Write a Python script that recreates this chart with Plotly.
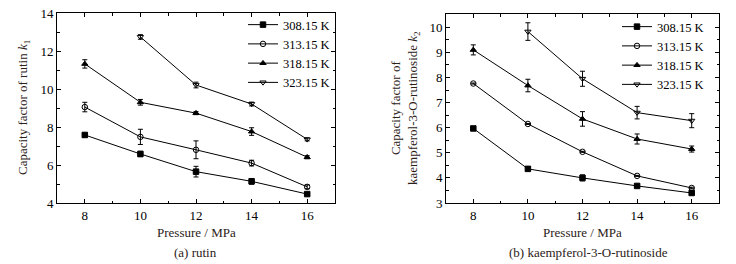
import plotly.graph_objects as go

pressure = [8, 10, 12, 14, 16]
temps = ["308.15 K", "313.15 K", "318.15 K", "323.15 K"]

# (a) rutin, k1
rutin = {
    "308.15 K": [7.58, 6.58, 5.65, 5.14, 4.47],
    "313.15 K": [9.05, 7.48, 6.80, 6.10, 4.85],
    "318.15 K": [11.32, 9.30, 8.73, 7.76, 6.41],
    "323.15 K": [None, 12.74, 10.21, 9.21, 7.35],
}
rutin_err = {
    "308.15 K": [0.10, 0.14, 0.28, 0.15, 0.06],
    "313.15 K": [0.25, 0.40, 0.47, 0.15, 0.10],
    "318.15 K": [0.22, 0.15, 0.08, 0.20, 0.08],
    "323.15 K": [0, 0.12, 0.15, 0.10, 0.08],
}
# (b) kaempferol-3-O-rutinoside, k2
kaemp = {
    "308.15 K": [5.97, 4.36, 4.00, 3.68, 3.40],
    "313.15 K": [7.76, 6.15, 5.04, 4.08, 3.60],
    "318.15 K": [9.10, 7.68, 6.35, 5.55, 5.15],
    "323.15 K": [None, 9.83, 7.95, 6.60, 6.28],
}
kaemp_err = {
    "308.15 K": [0.03, 0.07, 0.12, 0.03, 0.07],
    "313.15 K": [0.02, 0.02, 0.02, 0.02, 0.03],
    "318.15 K": [0.20, 0.25, 0.29, 0.20, 0.12],
    "323.15 K": [0, 0.35, 0.30, 0.25, 0.28],
}
symbols = ["square", "circle-open", "triangle-up", "triangle-down-open"]

FONT = "Liberation Serif"
fig = go.Figure()

for i, t in enumerate(temps):
    for (data, err, xa, ya, lg) in [(rutin, rutin_err, "x", "y", "legend"),
                                    (kaemp, kaemp_err, "x2", "y2", "legend2")]:
        fig.add_trace(go.Scatter(
            x=pressure, y=data[t], name=t, mode="lines+markers",
            xaxis=xa, yaxis=ya, legend=lg,
            line=dict(color="black", width=1),
            marker=dict(symbol=symbols[i], size=5.5, color="black",
                        line=dict(color="black", width=1)),
            error_y=dict(type="data", array=err[t], visible=True,
                         color="black", thickness=1, width=2.5),
            connectgaps=False,
        ))

axis_common = dict(
    showline=True, linecolor="black", linewidth=1, mirror="allticks",
    ticks="inside", ticklen=4, tickcolor="black", showgrid=False, zeroline=False,
    automargin=False,
    tickfont=dict(family=FONT, size=13, color="black"),
)
fig.update_layout(
    width=736, height=264, margin=dict(l=0, r=0, t=0, b=0, autoexpand=False),
    paper_bgcolor="white", plot_bgcolor="white",
    font=dict(family=FONT, size=13, color="black"),
    xaxis=dict(domain=[57/736, 335/736], range=[7, 17], tickvals=[8, 10, 12, 14, 16],
               minor=dict(dtick=1, tick0=0, ticks="inside", ticklen=2.5, tickcolor="black"),
               anchor="y", **axis_common),
    yaxis=dict(domain=[61/264, 251/264], range=[4, 14], tickvals=[4, 6, 8, 10, 12, 14],
               minor=dict(dtick=1, tick0=0, ticks="inside", ticklen=2.5, tickcolor="black"),
               anchor="x", **axis_common),
    xaxis2=dict(domain=[446/736, 719/736], range=[7, 17], tickvals=[8, 10, 12, 14, 16],
                minor=dict(dtick=1, tick0=0, ticks="inside", ticklen=2.5, tickcolor="black"),
                anchor="y2", **axis_common),
    yaxis2=dict(domain=[61/264, 250/264], range=[3, 10.53], tickvals=[3, 4, 5, 6, 7, 8, 9, 10],
                minor=dict(dtick=0.5, tick0=0, ticks="inside", ticklen=2.5, tickcolor="black"),
                anchor="x2", **axis_common),
    legend=dict(x=243/736, y=1 - 10/264, xanchor="left", yanchor="top",
                bgcolor="rgba(0,0,0,0)", font=dict(family=FONT, size=12.5),
                tracegroupgap=0, itemwidth=30),
    legend2=dict(x=617/736, y=1 - 12/264, xanchor="left", yanchor="top",
                 bgcolor="rgba(0,0,0,0)", font=dict(family=FONT, size=12.5),
                 tracegroupgap=0, itemwidth=30),
    showlegend=True,
)

title_color = "#2b2118"
ann = [
    dict(text="Pressure / MPa", x=196/736, y=1 - 232/264),
    dict(text="Pressure / MPa", x=582/736, y=1 - 232/264),
    dict(text="(a) rutin", x=195/736, y=1 - 252/264),
    dict(text="(b) kaempferol-3-O-rutinoside", x=588/736, y=1 - 252/264),
    dict(text="Capacity factor of rutin <i>k</i><sub>1</sub>", x=23/736, y=1 - 108/264, textangle=-90),
    dict(text="Capacity factor of<br>kaempferol-3-O-rutinoside <i>k</i><sub>2</sub>",
         x=405/736, y=1 - 108/264, textangle=-90),
]
for a in ann:
    fig.add_annotation(xref="paper", yref="paper", showarrow=False,
                       xanchor="center", yanchor="middle",
                       font=dict(family=FONT, size=13, color=title_color), **a)

fig.write_html("out.html", config={"displayModeBar": False},
               post_script="document.body.style.margin='0';")
